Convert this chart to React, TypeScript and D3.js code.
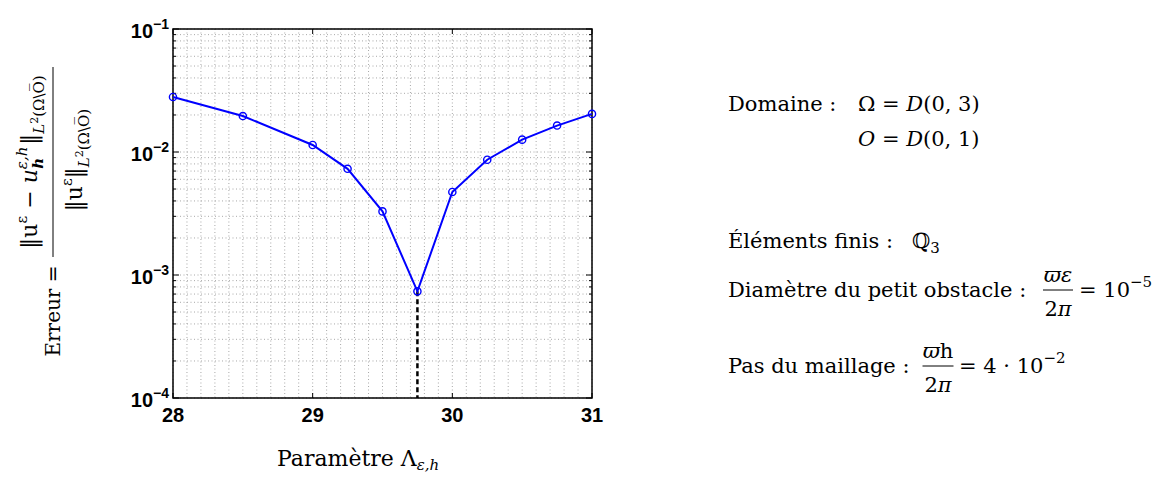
import { useEffect, useRef } from "react";
import { select, scaleLinear, scaleLog, line, min } from "d3";

////
// data
const LAMBDA = [28, 28.5, 29, 29.25, 29.5, 29.75, 30, 30.25, 30.5, 30.75, 31];
const ERREUR = [
  0.028, 0.0196, 0.0114, 0.0073, 0.00329, 0.000736, 0.00473, 0.00865, 0.0126,
  0.0164, 0.0204,
];
const X_TICKS = [28, 29, 30, 31];
const Y_EXPONENTS = [-1, -2, -3, -4];

////
/////
const W = 1154;
const H = 477;
const PLOT = { left: 173, right: 592, top: 29, bottom: 398 };
const SERIF = "'DejaVu Serif', serif";
const SANS = "'Liberation Sans', Arial, sans-serif";
const BLUE = "#0000ff";

const x = scaleLinear().domain([28, 31]).range([PLOT.left, PLOT.right]);
const y = scaleLog().domain([1e-4, 1e-1]).range([PLOT.bottom, PLOT.top]);

// grid positions: every 0.1 on x, 1..9 per decade on y
const gridX = Array.from({ length: 31 }, (_, i) => 28 + i / 10);
const gridY = [-4, -3, -2].flatMap((e) =>
  Array.from({ length: 9 }, (_, i) => (i + 1) * Math.pow(10, e))
).concat([1e-1]);

const Chart = () => {
  const ref = useRef<SVGGElement>(null);
  //
  useEffect(() => {
    const g = select(ref.current);
    g.selectAll("*").remove();
    //
    // [grid]
    g.append("g")
      .selectAll("line")
      .data(gridX)
      .join("line")
      .attr("x1", (d) => x(d))
      .attr("x2", (d) => x(d))
      .attr("y1", PLOT.top)
      .attr("y2", PLOT.bottom)
      .attr("stroke", "#a8a8a8")
      .attr("stroke-dasharray", "1 2.5");
    g.append("g")
      .selectAll("line")
      .data(gridY)
      .join("line")
      .attr("x1", PLOT.left)
      .attr("x2", PLOT.right)
      .attr("y1", (d) => y(d))
      .attr("y2", (d) => y(d))
      .attr("stroke", "#a8a8a8")
      .attr("stroke-dasharray", "1 2.5");
    //
    // [ticks] inward, both sides
    const ticks = g.append("g").attr("stroke", "#000").attr("stroke-width", 1);
    X_TICKS.forEach((t) => {
      ticks.append("line").attr("x1", x(t)).attr("x2", x(t))
        .attr("y1", PLOT.bottom).attr("y2", PLOT.bottom - 5);
      ticks.append("line").attr("x1", x(t)).attr("x2", x(t))
        .attr("y1", PLOT.top).attr("y2", PLOT.top + 5);
    });
    gridY.forEach((t) => {
      const major = Math.abs(Math.log10(t) - Math.round(Math.log10(t))) < 1e-9;
      const len = major ? 6 : 3;
      ticks.append("line").attr("x1", PLOT.left).attr("x2", PLOT.left + len)
        .attr("y1", y(t)).attr("y2", y(t));
      ticks.append("line").attr("x1", PLOT.right).attr("x2", PLOT.right - len)
        .attr("y1", y(t)).attr("y2", y(t));
    });
    //
    // [box]
    g.append("rect")
      .attr("x", PLOT.left)
      .attr("y", PLOT.top)
      .attr("width", PLOT.right - PLOT.left)
      .attr("height", PLOT.bottom - PLOT.top)
      .attr("fill", "none")
      .attr("stroke", "#000")
      .attr("stroke-width", 1.5);
    //
    // [tick labels]
    g.append("g")
      .selectAll("text")
      .data(X_TICKS)
      .join("text")
      .attr("x", (d) => x(d))
      .attr("y", PLOT.bottom + 24)
      .attr("text-anchor", "middle")
      .attr("font-family", SANS)
      .attr("font-weight", "bold")
      .attr("font-size", 20)
      .text((d) => d);
    const yl = g.append("g")
      .selectAll("text")
      .data(Y_EXPONENTS)
      .join("text")
      .attr("x", PLOT.left - 4)
      .attr("y", (d) => y(Math.pow(10, d)) + 9)
      .attr("text-anchor", "end")
      .attr("font-family", SANS)
      .attr("font-weight", "bold")
      .attr("font-size", 20);
    yl.append("tspan").text("10");
    yl.append("tspan")
      .attr("dy", -9)
      .attr("font-size", 14)
      .text((d) => "\u2212" + Math.abs(d));
    //
    // [minimum] dashed drop line
    const eMin = min(ERREUR) as number;
    const lMin = LAMBDA[ERREUR.indexOf(eMin)];
    g.append("line")
      .attr("x1", x(lMin))
      .attr("x2", x(lMin))
      .attr("y1", y(eMin))
      .attr("y2", PLOT.bottom)
      .attr("stroke", "#000")
      .attr("stroke-width", 2.5)
      .attr("stroke-dasharray", "5 3");
    //
    // [series]
    const pts = LAMBDA.map((l, i) => [l, ERREUR[i]] as [number, number]);
    g.append("path")
      .datum(pts)
      .attr("d", line<[number, number]>().x((d) => x(d[0])).y((d) => y(d[1])))
      .attr("fill", "none")
      .attr("stroke", BLUE)
      .attr("stroke-width", 2);
    g.append("g")
      .selectAll("circle")
      .data(pts)
      .join("circle")
      .attr("cx", (d) => x(d[0]))
      .attr("cy", (d) => y(d[1]))
      .attr("r", 3.6)
      .attr("fill", "none")
      .attr("stroke", BLUE)
      .attr("stroke-width", 1.4);
  }, []);
  //
  return <g ref={ref} />;
};

////
// rotated y label: local (u, v) -> page (v, -u)
const YLabel = () => (
  <g transform="rotate(-90)" fontFamily={SERIF} fill="#000">
    <text x={-311} y={60} fontSize={20} textAnchor="middle">
      Erreur =
    </text>
    <line x1={-257} x2={-67} y1={53} y2={53} stroke="#000" strokeWidth={1} />
    <text x={-162} y={37} fontSize={22} textAnchor="middle">
      <tspan>‖u</tspan>
      <tspan dy={-10} fontSize={15}>ε</tspan>
      <tspan dy={10}> − </tspan>
      <tspan fontStyle="italic">u</tspan>
      <tspan dy={-10} fontSize={15} fontStyle="italic">ε,h</tspan>
      <tspan dy={16} dx={-22} fontSize={15} fontStyle="italic" fontWeight="bold">h</tspan>
      <tspan dy={-6} dx={13}>‖</tspan>
      <tspan dy={7} fontSize={15} fontStyle="italic">L</tspan>
      <tspan dy={-6} fontSize={11}>2</tspan>
      <tspan dy={6} fontSize={15}>(Ω\O&#x305;)</tspan>
    </text>
    <text x={-160} y={82} fontSize={22} textAnchor="middle">
      <tspan>‖u</tspan>
      <tspan dy={-10} fontSize={15}>ε</tspan>
      <tspan dy={10}>‖</tspan>
      <tspan dy={7} fontSize={15} fontStyle="italic">L</tspan>
      <tspan dy={-6} fontSize={11}>2</tspan>
      <tspan dy={6} fontSize={15}>(Ω\O&#x305;)</tspan>
    </text>
  </g>
);

const Frac = ({ cx, base, w, num, den }: { cx: number; base: number; w: number; num: any; den: any }) => {
  const bar = base - 7;
  return (
    <g>
      <text x={cx} y={bar - 8} textAnchor="middle" fontStyle="italic">{num}</text>
      <line x1={cx - w / 2} x2={cx + w / 2} y1={bar} y2={bar} stroke="#000" strokeWidth={1} />
      <text x={cx} y={bar + 26} textAnchor="middle">{den}</text>
    </g>
  );
};

const Notes = () => (
  <g fontFamily={SERIF} fontSize={21} fill="#000">
    <text x={728} y={111}>Domaine :</text>
    <text x={858} y={111}>
      Ω = <tspan fontStyle="italic">D</tspan>(0, 3)
    </text>
    <text x={858} y={146}>
      <tspan fontStyle="italic">O</tspan> = <tspan fontStyle="italic">D</tspan>(0, 1)
    </text>
    <text x={728} y={248}>
      Éléments finis :
      <tspan x={912}>ℚ</tspan>
      <tspan dy={5} fontSize={15}>3</tspan>
    </text>
    <text x={728} y={297}>Diamètre du petit obstacle :</text>
    <Frac cx={1058} base={297} w={30} num="ϖε" den={<>2<tspan fontStyle="italic">π</tspan></>} />
    <text x={1079} y={297}>
      = 10<tspan dy={-10} fontSize={15}>−5</tspan>
    </text>
    <text x={728} y={373}>Pas du maillage :</text>
    <Frac cx={938} base={373} w={31} num={<>ϖ<tspan fontStyle="normal">h</tspan></>} den={<>2<tspan fontStyle="italic">π</tspan></>} />
    <text x={959} y={373}>
      = 4 · 10<tspan dy={-10} fontSize={15}>−2</tspan>
    </text>
    <text x={277} y={466} fontSize={22}>
      Paramètre Λ<tspan dy={4} fontSize={15} fontStyle="italic">ε,h</tspan>
    </text>
  </g>
);

export default function App() {
  return (
    <svg
      width={W}
      height={H}
      style={{ position: "absolute", left: 0, top: 0, background: "#fff" }}
    >
      <Chart />
      <YLabel />
      <Notes />
    </svg>
  );
}
